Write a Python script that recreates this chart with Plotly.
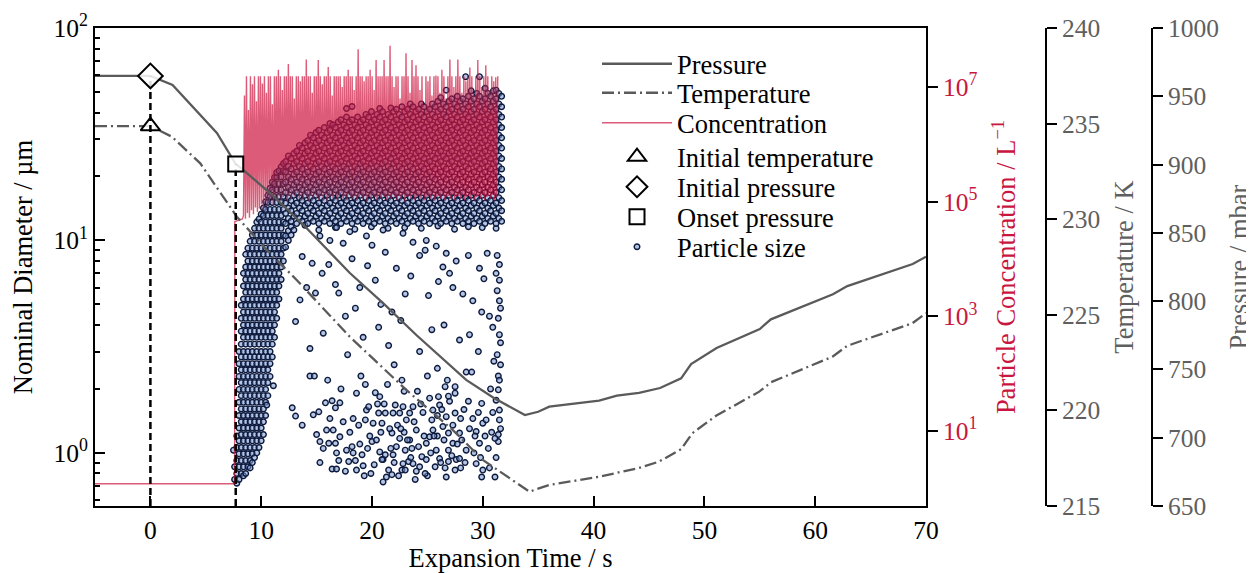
import plotly.graph_objects as go

# ---------------- data ----------------
press_t = [-5, 0, 2, 6, 7.7, 8.4, 11, 14, 18, 21, 24, 28.5, 31, 33.8, 35, 36, 40.5,
           42.1, 44.1, 46.0, 47.9, 48.8, 51.1, 55.0, 56.0, 61.6, 62.9, 68.8, 70]
press_mbar = [964.9, 964.9, 958.3, 923.1, 900.4, 896.0, 877.7, 854.3, 820.6, 798.6,
              775.2, 742.3, 729.1, 716.6, 719.0, 722.7, 727.1, 730.8, 732.9, 736.4,
              743.5, 753.9, 765.7, 779.6, 786.7, 805.0, 811.0, 827.2, 832.5]

temp_t = [-5, 0, 1.95, 4.5, 7.8, 10.5, 13.2, 18, 23.1, 27.3, 30, 34.2, 36, 40.5, 44.1,
          45.9, 47.9, 48.9, 51.05, 54.95, 56.0, 61.56, 62.9, 68.77, 70]
temp_K = [234.87, 234.87, 234.31, 232.92, 230.13, 228.39, 226.82, 223.85, 221.07,
          218.97, 217.41, 215.75, 216.10, 216.53, 216.99, 217.32, 217.97, 218.80,
          219.72, 220.98, 221.47, 222.81, 223.38, 224.56, 225.08]

init_temp = (0.0, 234.87)
init_press = (0.0, 964.9)
onset_press = (7.7, 900.4)

# concentration (L^-1): baseline + onset, then spiky record sampled every 0.09 s
conc_pre_t = [-5, 7.6, 7.62, 8.3]
conc_pre = [1.2, 1.2, 4.5e4, 5.0e4]
conc_spike_t0 = 8.40
conc_spike_dt = 0.09
conc_spike_log10 = [
    4.75, 6.85, 4.70, 7.19, 4.80, 6.60, 4.72, 7.19, 4.85, 7.05, 4.78, 7.19, 4.90, 6.75, 4.82, 7.19,
    4.88, 7.19, 4.95, 7.06, 4.85, 7.19, 5.00, 6.90, 4.92, 7.19, 4.98, 7.19, 5.05, 6.70, 4.95, 7.19,
    5.05, 7.19, 5.00, 7.30, 5.10, 7.19, 5.02, 6.95, 5.08, 7.19, 5.12, 7.19, 5.00, 7.40, 5.10, 7.19,
    5.05, 7.19, 5.12, 6.80, 5.08, 7.19, 5.15, 7.19, 5.05, 7.10, 5.10, 7.19, 5.02, 7.19, 5.12, 7.48,
    5.08, 7.19, 5.00, 7.19, 5.10, 6.90, 5.05, 7.19, 5.12, 7.19, 5.08, 7.47, 5.02, 7.19, 5.10, 7.05,
    5.05, 7.19, 5.12, 7.19, 5.00, 7.35, 5.08, 7.19, 5.10, 6.85, 5.05, 7.19, 5.12, 7.19, 5.02, 7.19,
    5.08, 7.19, 5.15, 7.00, 5.05, 7.19, 5.10, 7.19, 5.02, 7.30, 5.12, 7.19, 5.08, 7.19, 5.05, 6.95,
    5.10, 7.19, 5.02, 7.66, 5.08, 7.19, 5.12, 7.19, 5.05, 7.10, 5.10, 7.19, 5.00, 7.19, 5.08, 7.30,
    5.05, 7.19, 5.12, 6.95, 5.08, 7.47, 5.02, 7.19, 5.10, 7.19, 5.05, 7.19, 5.12, 7.47, 5.08, 7.19,
    5.02, 7.19, 5.10, 7.72, 5.05, 7.19, 5.12, 7.00, 5.08, 7.19, 5.02, 7.19, 5.10, 6.80, 5.05, 7.19,
    5.12, 7.19, 5.00, 7.59, 5.08, 7.19, 5.10, 6.90, 5.05, 7.47, 5.12, 7.19, 5.02, 7.38, 5.08, 7.19,
    5.10, 6.95, 5.05, 7.19, 5.12, 6.70, 5.02, 7.19, 5.08, 7.10, 5.10, 7.19, 5.05, 6.85, 5.12, 7.19,
    5.02, 7.20, 5.08, 7.19, 5.10, 6.90, 5.05, 7.30, 5.12, 7.19, 5.02, 6.80, 5.08, 7.19, 5.10, 7.48,
    5.05, 7.19, 5.12, 7.00, 5.02, 7.19, 5.08, 7.48, 5.10, 7.19, 5.05, 6.90, 5.12, 7.19, 5.02, 7.10,
    5.08, 7.19, 5.10, 7.34, 5.05, 7.19, 5.12, 6.85, 5.02, 7.19, 5.08, 7.47, 5.10, 7.19, 5.05, 7.00,
    5.12, 7.19, 5.02, 7.38, 5.08, 7.19, 5.10, 6.95, 5.05, 7.19, 5.12, 7.10, 5.02, 7.17, 5.08, 7.19,
]

# particle sizes (um): rising edge after onset, one column per time bin
rise_t = [7.6, 7.8, 8.0, 8.2, 8.4, 8.6, 8.8, 9.0, 9.2, 9.4, 9.6, 9.8, 10.0, 10.2,
          10.4, 10.6, 10.8, 11.0, 11.2, 11.4, 11.6, 11.8, 12.0]
rise_d = [
    [0.75, 0.86],
    [0.72, 0.8, 0.92, 1.06, 1.2],
    [0.75, 0.86, 0.99, 1.14, 1.31, 1.5, 1.73, 1.99, 2.29, 2.63, 3.0],
    [0.8, 0.92, 1.06, 1.22, 1.4, 1.61, 1.86, 2.14, 2.46, 2.83, 3.25, 3.74, 4.3, 4.95],
    [0.78, 0.86, 0.99, 1.14, 1.31, 1.5, 1.73, 1.99, 2.29, 2.63, 3.0, 3.5, 4.0, 4.6, 5.3, 6.1, 7.0],
    [0.8, 0.92, 1.06, 1.22, 1.4, 1.61, 1.86, 2.14, 2.46, 2.83, 3.25, 3.74, 4.3, 4.95, 5.7, 6.55, 7.5, 8.6],
    [0.86, 0.99, 1.14, 1.31, 1.5, 1.73, 1.99, 2.29, 2.63, 3.0, 3.5, 4.0, 4.6, 5.3, 6.1, 7.0, 8.0, 9.2],
    [0.85, 0.92, 1.06, 1.22, 1.4, 1.61, 1.86, 2.14, 2.46, 2.83, 3.25, 3.74, 4.3, 4.95, 5.7, 6.55, 7.5, 8.6, 9.9],
    [0.9, 0.99, 1.14, 1.31, 1.5, 1.73, 1.99, 2.29, 2.63, 3.0, 3.5, 4.0, 4.6, 5.3, 6.1, 7.0, 8.0, 9.2, 10.6],
    [0.95, 1.06, 1.22, 1.4, 1.61, 1.86, 2.14, 2.46, 2.83, 3.25, 3.74, 4.3, 4.95, 5.7, 6.55, 7.5, 8.6, 9.9, 11.4],
    [1.0, 1.14, 1.31, 1.5, 1.73, 1.99, 2.29, 2.63, 3.0, 3.5, 4.0, 4.6, 5.3, 6.1, 7.0, 8.0, 9.2, 10.6, 12.2],
    [1.06, 1.22, 1.4, 1.61, 1.86, 2.14, 2.46, 2.83, 3.25, 3.74, 4.3, 4.95, 5.7, 6.55, 7.5, 8.6, 9.9, 11.4, 12.6],
    [1.14, 1.31, 1.5, 1.73, 1.99, 2.29, 2.63, 3.0, 3.5, 4.0, 4.6, 5.3, 6.1, 7.0, 8.0, 9.2, 10.6, 12.2, 13.3],
    [1.22, 1.4, 1.61, 1.86, 2.14, 2.46, 2.83, 3.25, 3.74, 4.3, 4.95, 5.7, 6.55, 7.5, 8.6, 9.9, 11.4, 13.1, 14.2],
    [1.5, 1.73, 1.99, 2.29, 2.63, 3.0, 3.5, 4.0, 4.6, 5.3, 6.1, 7.0, 8.0, 9.2, 10.6, 12.2, 14.0, 15.2],
    [1.86, 2.14, 2.46, 2.83, 3.25, 3.74, 4.3, 4.95, 5.7, 6.55, 7.5, 8.6, 9.9, 11.4, 13.1, 15.1, 16.3],
    [2.29, 2.63, 3.0, 3.5, 4.0, 4.6, 5.3, 6.1, 7.0, 8.0, 9.2, 10.6, 12.2, 14.0, 16.1, 17.6],
    [2.83, 3.25, 3.74, 4.3, 4.95, 5.7, 6.55, 7.5, 8.6, 9.9, 11.4, 13.1, 15.1, 17.3, 18.8],
    [3.5, 4.0, 4.6, 5.3, 6.1, 7.0, 8.0, 9.2, 10.6, 12.2, 14.0, 16.1, 18.5, 19.8],
    [4.3, 4.95, 5.7, 6.55, 7.5, 8.6, 9.9, 11.4, 13.1, 15.1, 17.3, 19.9, 20.9],
    [5.3, 6.1, 7.0, 8.0, 9.2, 10.6, 12.2, 14.0, 16.1, 18.5, 21.3],
    [6.55, 7.5, 8.6, 9.9, 11.4, 13.1, 15.1, 17.3, 19.9, 22.2],
    [8.0, 9.2, 10.6, 12.2, 14.0, 16.1, 18.5, 21.3, 23.0],
]

# dense band of large particles, one column per 0.25 s bin
band_t = [12.2, 12.45, 12.7, 12.95, 13.2, 13.45, 13.7, 13.95, 14.2, 14.45, 14.7, 14.95,
          15.2, 15.45, 15.7, 15.95, 16.2, 16.45, 16.7, 16.95, 17.2, 17.45, 17.7, 17.95,
          18.2, 18.45, 18.7, 18.95, 19.2, 19.45, 19.7, 19.95, 20.2, 20.45, 20.7, 20.95,
          21.2, 21.45, 21.7, 21.95, 22.2, 22.45, 22.7, 22.95, 23.2, 23.45, 23.7, 23.95,
          24.2, 24.45, 24.7, 24.95, 25.2, 25.45, 25.7, 25.95, 26.2, 26.45, 26.7, 26.95,
          27.2, 27.45, 27.7, 27.95, 28.2, 28.45, 28.7, 28.95, 29.2, 29.45, 29.7, 29.95,
          30.2, 30.45, 30.7, 30.95, 31.2, 31.45, 31.7]
band_d = [
    [9.3, 10.5, 12.0, 13.4, 15.0, 16.8, 18.8, 21.0, 23.5],
    [10.0, 11.1, 12.7, 14.2, 15.9, 17.8, 19.9, 22.3, 25.0],
    [10.6, 11.6, 12.3, 13.8, 15.4, 17.3, 19.4, 21.7, 24.3],
    [11.2, 13.0, 14.6, 16.3, 18.3, 20.5, 23.0, 25.7],
    [12.0, 13.4, 15.0, 16.8, 18.8, 21.0, 23.5, 26.3],
    [12.7, 14.2, 15.9, 17.8, 19.9, 22.3, 25.0, 28.0],
    [12.3, 13.8, 15.4, 17.3, 19.4, 21.7, 24.3, 27.2],
    [11.8, 13.0, 14.6, 16.3, 18.3, 20.5, 23.0, 25.7, 28.8],
    [12.0, 13.4, 15.0, 16.8, 18.8, 21.0, 23.5, 26.3, 29.5],
    [12.7, 14.2, 15.9, 17.8, 19.9, 22.3, 25.0, 28.0, 31.3],
    [12.3, 13.8, 15.4, 17.3, 19.4, 21.7, 24.3, 27.2, 30.4],
    [13.0, 14.6, 16.3, 18.3, 20.5, 23.0, 25.7, 28.8, 32.2],
    [11.2, 12.0, 13.4, 15.0, 16.8, 18.8, 21.0, 23.5, 26.3, 29.5, 33.0],
    [12.7, 14.2, 15.9, 17.8, 19.9, 22.3, 25.0, 28.0, 31.3],
    [12.3, 13.8, 15.4, 17.3, 19.4, 21.7, 24.3, 27.2, 30.4, 34.0],
    [13.0, 14.6, 16.3, 18.3, 20.5, 23.0, 25.7, 28.8, 32.2],
    [12.0, 13.4, 15.0, 16.8, 18.8, 21.0, 23.5, 26.3, 29.5, 33.0, 35.5],
    [12.7, 14.2, 15.9, 17.8, 19.9, 22.3, 25.0, 28.0, 31.3, 35.0],
    [11.5, 12.3, 13.8, 15.4, 17.3, 19.4, 21.7, 24.3, 27.2, 30.4, 34.0],
    [13.0, 14.6, 16.3, 18.3, 20.5, 23.0, 25.7, 28.8, 32.2, 36.1],
    [12.0, 13.4, 15.0, 16.8, 18.8, 21.0, 23.5, 26.3, 29.5, 33.0, 37.0],
    [12.7, 14.2, 15.9, 17.8, 19.9, 22.3, 25.0, 28.0, 31.3, 35.0],
    [12.3, 13.8, 15.4, 17.3, 19.4, 21.7, 24.3, 27.2, 30.4, 34.0, 38.1, 41.8],
    [13.0, 14.6, 16.3, 18.3, 20.5, 23.0, 25.7, 28.8, 32.2, 36.1],
    [12.0, 13.4, 15.0, 16.8, 18.8, 21.0, 23.5, 26.3, 29.5, 33.0, 37.0, 42.7],
    [11.3, 12.7, 14.2, 15.9, 17.8, 19.9, 22.3, 25.0, 28.0, 31.3, 35.0],
    [12.3, 13.8, 15.4, 17.3, 19.4, 21.7, 24.3, 27.2, 30.4, 34.0, 38.1],
    [13.0, 14.6, 16.3, 18.3, 20.5, 23.0, 25.7, 28.8, 32.2, 36.1],
    [12.0, 13.4, 15.0, 16.8, 18.8, 21.0, 23.5, 26.3, 29.5, 33.0, 37.0],
    [12.7, 14.2, 15.9, 17.8, 19.9, 22.3, 25.0, 28.0, 31.3, 35.0, 39.2],
    [12.3, 13.8, 15.4, 17.3, 19.4, 21.7, 24.3, 27.2, 30.4, 34.0, 38.1],
    [11.6, 13.0, 14.6, 16.3, 18.3, 20.5, 23.0, 25.7, 28.8, 32.2, 36.1, 40.4],
    [12.0, 13.4, 15.0, 16.8, 18.8, 21.0, 23.5, 26.3, 29.5, 33.0, 37.0],
    [12.7, 14.2, 15.9, 17.8, 19.9, 22.3, 25.0, 28.0, 31.3, 35.0, 39.2],
    [12.3, 13.8, 15.4, 17.3, 19.4, 21.7, 24.3, 27.2, 30.4, 34.0, 38.1, 41.8],
    [13.0, 14.6, 16.3, 18.3, 20.5, 23.0, 25.7, 28.8, 32.2, 36.1, 40.4],
    [12.0, 13.4, 15.0, 16.8, 18.8, 21.0, 23.5, 26.3, 29.5, 33.0, 37.0],
    [11.4, 12.7, 14.2, 15.9, 17.8, 19.9, 22.3, 25.0, 28.0, 31.3, 35.0, 39.2],
    [12.3, 13.8, 15.4, 17.3, 19.4, 21.7, 24.3, 27.2, 30.4, 34.0, 38.1, 42.0],
    [13.0, 14.6, 16.3, 18.3, 20.5, 23.0, 25.7, 28.8, 32.2, 36.1, 40.4],
    [12.0, 13.4, 15.0, 16.8, 18.8, 21.0, 23.5, 26.3, 29.5, 33.0, 37.0, 41.4],
    [12.7, 14.2, 15.9, 17.8, 19.9, 22.3, 25.0, 28.0, 31.3, 35.0, 39.2],
    [12.3, 13.8, 15.4, 17.3, 19.4, 21.7, 24.3, 27.2, 30.4, 34.0, 38.1, 42.6],
    [11.5, 13.0, 14.6, 16.3, 18.3, 20.5, 23.0, 25.7, 28.8, 32.2, 36.1, 40.4],
    [12.0, 13.4, 15.0, 16.8, 18.8, 21.0, 23.5, 26.3, 29.5, 33.0, 37.0, 41.4],
    [12.7, 14.2, 15.9, 17.8, 19.9, 22.3, 25.0, 28.0, 31.3, 35.0, 39.2, 43.9],
    [12.3, 13.8, 15.4, 17.3, 19.4, 21.7, 24.3, 27.2, 30.4, 34.0, 38.1, 42.6],
    [13.0, 14.6, 16.3, 18.3, 20.5, 23.0, 25.7, 28.8, 32.2, 36.1, 40.4],
    [12.0, 13.4, 15.0, 16.8, 18.8, 21.0, 23.5, 26.3, 29.5, 33.0, 37.0, 41.4],
    [11.4, 12.7, 14.2, 15.9, 17.8, 19.9, 22.3, 25.0, 28.0, 31.3, 35.0, 39.2, 43.9],
    [12.3, 13.8, 15.4, 17.3, 19.4, 21.7, 24.3, 27.2, 30.4, 34.0, 38.1, 42.6],
    [13.0, 14.6, 16.3, 18.3, 20.5, 23.0, 25.7, 28.8, 32.2, 36.1, 40.4],
    [12.0, 13.4, 15.0, 16.8, 18.8, 21.0, 23.5, 26.3, 29.5, 33.0, 37.0, 41.4],
    [12.7, 14.2, 15.9, 17.8, 19.9, 22.3, 25.0, 28.0, 31.3, 35.0, 39.2, 43.9],
    [12.3, 13.8, 15.4, 17.3, 19.4, 21.7, 24.3, 27.2, 30.4, 34.0, 38.1, 42.6],
    [11.7, 13.0, 14.6, 16.3, 18.3, 20.5, 23.0, 25.7, 28.8, 32.2, 36.1, 40.4, 45.2],
    [12.0, 13.4, 15.0, 16.8, 18.8, 21.0, 23.5, 26.3, 29.5, 33.0, 37.0, 41.4, 47.0],
    [12.7, 14.2, 15.9, 17.8, 19.9, 22.3, 25.0, 28.0, 31.3, 35.0, 39.2, 43.9],
    [12.3, 13.8, 15.4, 17.3, 19.4, 21.7, 24.3, 27.2, 30.4, 34.0, 38.1, 42.6, 51.0],
    [13.0, 14.6, 16.3, 18.3, 20.5, 23.0, 25.7, 28.8, 32.2, 36.1, 40.4, 45.2],
    [12.0, 13.4, 15.0, 16.8, 18.8, 21.0, 23.5, 26.3, 29.5, 33.0, 37.0, 41.4, 46.4],
    [11.3, 12.7, 14.2, 15.9, 17.8, 19.9, 22.3, 25.0, 28.0, 31.3, 35.0, 39.2, 43.9],
    [12.3, 13.8, 15.4, 17.3, 19.4, 21.7, 24.3, 27.2, 30.4, 34.0, 38.1, 42.6, 47.7],
    [13.0, 14.6, 16.3, 18.3, 20.5, 23.0, 25.7, 28.8, 32.2, 36.1, 40.4, 45.2],
    [12.0, 13.4, 15.0, 16.8, 18.8, 21.0, 23.5, 26.3, 29.5, 33.0, 37.0, 41.4, 46.4],
    [12.7, 14.2, 15.9, 17.8, 19.9, 22.3, 25.0, 28.0, 31.3, 35.0, 39.2, 43.9, 59.0],
    [11.6, 12.3, 13.8, 15.4, 17.3, 19.4, 21.7, 24.3, 27.2, 30.4, 34.0, 38.1, 42.6, 47.7],
    [13.0, 14.6, 16.3, 18.3, 20.5, 23.0, 25.7, 28.8, 32.2, 36.1, 40.4, 45.2, 50.6],
    [12.0, 13.4, 15.0, 16.8, 18.8, 21.0, 23.5, 26.3, 29.5, 33.0, 37.0, 41.4, 46.4],
    [12.7, 14.2, 15.9, 17.8, 19.9, 22.3, 25.0, 28.0, 31.3, 35.0, 39.2, 43.9, 49.2],
    [12.3, 13.8, 15.4, 17.3, 19.4, 21.7, 24.3, 27.2, 30.4, 34.0, 38.1, 42.6, 47.7, 59.0],
    [11.5, 13.0, 14.6, 16.3, 18.3, 20.5, 23.0, 25.7, 28.8, 32.2, 36.1, 40.4, 45.2],
    [12.0, 13.4, 15.0, 16.8, 18.8, 21.0, 23.5, 26.3, 29.5, 33.0, 37.0, 41.4, 46.4, 52.0],
    [12.7, 14.2, 15.9, 17.8, 19.9, 22.3, 25.0, 28.0, 31.3, 35.0, 39.2, 43.9, 49.2],
    [12.3, 13.8, 15.4, 17.3, 19.4, 21.7, 24.3, 27.2, 30.4, 34.0, 38.1, 42.6, 47.7],
    [13.0, 14.6, 16.3, 18.3, 20.5, 23.0, 25.7, 28.8, 32.2, 36.1, 40.4, 45.2, 50.6],
    [11.4, 12.0, 13.4, 15.0, 16.8, 18.8, 21.0, 23.5, 26.3, 29.5, 33.0, 37.0, 41.4, 46.4, 51.0],
    [12.7, 14.2, 15.9, 17.8, 19.9, 22.3, 25.0, 28.0, 31.3, 35.0, 39.2, 43.9, 49.2],
    [12.3, 13.8, 15.4, 17.3, 19.4, 21.7, 24.3, 27.2, 30.4, 34.0, 38.1, 42.6, 47.7],
]

# scattered mid-size particles
mid_t = [13.1, 14.4, 14.4, 14.8, 15.6, 13.5, 14.1, 14.9, 15.5, 16.1, 16.7, 17.0, 14.6,
         13.7, 16.2, 17.4, 18.5, 19.2, 20.3, 20.8, 21.5, 22.0, 21.2, 22.6, 23.5, 24.3,
         25.1, 25.9, 26.5, 27.3, 27.9, 28.5, 29.1, 29.6, 30.1, 30.6, 31.0, 31.3, 31.5,
         31.4, 31.6, 31.2, 30.4, 18.0, 19.5, 21.0, 22.8, 23.7, 24.8, 25.8, 26.7, 27.6,
         28.7, 29.7, 31.3, 31.5, 24.3, 26.4, 24.9, 20.0, 16.8, 15.3,
         31.5, 31.5, 31.4, 31.6, 31.3, 31.6, 30.9, 29.9, 28.8, 28.2, 27.0, 26.0, 25.4,
         23.0, 22.2, 21.8, 20.6, 19.6, 18.9, 18.2, 17.8, 17.6]
mid_d = [4.15, 3.1, 2.3, 2.3, 3.66, 5.25, 6.0, 5.65, 7.0, 7.7, 6.2, 5.65, 7.8,
         8.4, 10.0, 9.7, 4.8, 3.5, 6.5, 5.0, 3.2, 2.6, 8.8, 4.2, 6.8, 3.0,
         5.5, 2.5, 4.0, 6.0, 3.4, 2.4, 5.2, 3.0, 6.6, 4.4, 2.7, 5.8, 3.6,
         2.3, 4.8, 7.0, 8.7, 11.0, 10.5, 11.2, 10.8, 9.8, 9.0, 9.4, 8.7, 8.0,
         8.5, 7.4, 8.5, 7.7, 8.5, 7.5, 10.0, 9.5, 11.5, 10.5,
         6.5, 5.2, 4.3, 3.3, 2.9, 2.6, 3.9, 4.6, 3.6, 5.6, 7.0, 6.4, 3.8,
         5.6, 7.4, 4.6, 3.9, 7.6, 6.0, 8.2, 2.9, 4.4]

# cluster of small particles
low_t = [7.5, 10.5, 11.1, 12.8, 13.1, 13.7, 14.7, 15.2, 15.8, 16.4, 16.7, 17.1, 15.0, 15.3,
         16.1, 15.9, 16.5, 16.7, 17.1, 16.8, 16.4, 16.8, 17.6, 15.3, 17.7, 18.2, 18.3, 17.9,
         18.5, 18.6, 19.2, 19.1, 18.6, 19.5, 19.4, 20.1, 20.3, 20.7, 20.6, 21.2, 20.9, 20.0,
         20.4, 20.7, 21.0, 21.2, 20.9, 21.5, 21.0, 21.3, 21.8, 21.9, 22.2, 22.5, 21.8, 21.9,
         22.1, 22.5, 22.8, 23.1, 23.4, 23.7, 24.0, 23.4, 23.0, 22.8, 22.7, 23.0, 23.3, 23.7,
         24.0, 24.3, 24.5, 24.9, 24.2, 24.9, 25.2, 25.5, 25.4, 25.5, 25.2, 26.0, 26.1, 26.6,
         27.5, 27.5, 27.5, 26.7, 26.4, 26.9, 27.9, 27.3, 26.9, 25.8, 26.1, 25.7, 26.6, 26.9,
         27.6, 27.9, 27.5, 26.7, 28.5, 29.1, 29.4, 29.9, 30.0, 30.3, 29.7, 29.4, 30.0, 29.9,
         31.1, 31.2, 31.5, 31.5, 31.4, 31.4, 31.1, 31.4, 31.5, 18.0, 18.8, 19.6, 19.9, 20.5,
         21.6, 22.3, 22.9, 23.6, 24.6, 24.7, 25.0, 25.9, 26.3, 27.0, 27.2, 28.1, 28.3, 28.8,
         29.2, 29.6, 30.5, 30.8, 28.0, 23.9, 22.4, 19.8, 17.4, 24.1, 26.8, 29.0, 30.7, 21.4,
         19.0, 17.2, 16.0,
         18.3, 18.9, 19.3, 19.7, 20.2, 20.8, 21.1, 21.7, 22.0, 22.6, 22.9, 23.2, 23.5, 23.8,
         24.4, 24.8, 25.3, 25.6, 25.9, 26.2, 26.5, 26.9, 27.3, 27.7, 28.0, 28.4, 28.7, 29.3,
         29.8, 30.2, 30.6, 30.9, 31.2, 31.6, 17.0, 16.2, 15.6, 19.4, 22.7, 25.0]
low_d = [1.03, 1.68, 2.07, 1.63, 1.49, 1.35, 1.51, 1.56, 1.72, 1.76, 1.63, 1.72, 1.22, 1.13,
         1.11, 1.28, 1.28, 1.11, 1.19, 1.0, 0.84, 0.84, 0.82, 0.90, 1.03, 1.07, 1.0, 0.91,
         0.92, 0.83, 0.87, 0.98, 1.91, 1.59, 1.43, 1.38, 1.92, 1.84, 1.54, 1.54, 1.38, 1.13,
         1.15, 1.01, 0.93, 0.98, 0.93, 0.83, 0.73, 0.77, 0.79, 0.98, 1.07, 1.17, 1.24, 1.54,
         1.68, 1.54, 1.65, 1.43, 1.54, 1.65, 1.28, 1.15, 1.03, 0.89, 0.83, 0.83, 0.91, 0.89,
         0.82, 0.86, 0.96, 0.93, 1.07, 1.11, 1.19, 1.28, 1.43, 1.59, 1.81, 1.84, 1.68, 2.05,
         2.05, 1.91, 1.54, 1.48, 1.33, 1.24, 1.24, 1.11, 1.03, 1.03, 0.94, 0.86, 0.85, 0.91,
         0.93, 0.94, 0.83, 0.77, 1.03, 1.45, 1.26, 1.71, 1.38, 1.43, 1.11, 0.89, 0.83, 0.77,
         0.77, 1.77, 1.59, 1.43, 1.22, 1.13, 1.17, 1.98, 2.2, 1.25, 1.35, 1.05, 0.8, 1.7,
         1.3, 1.35, 1.25, 1.05, 1.55, 1.2, 0.78, 1.2, 1.6, 1.75, 0.97, 1.15, 1.6, 1.3,
         1.0, 1.55, 1.05, 1.25, 0.85, 0.75, 0.78, 1.2, 1.4, 1.95, 2.2, 2.4, 2.0, 2.1,
         2.3, 2.0, 2.2,
         1.45, 1.1, 0.78, 1.65, 0.88, 1.25, 1.7, 1.05, 0.9, 1.3, 1.95, 1.15, 0.95, 1.4,
         1.7, 0.8, 1.0, 1.2, 1.5, 0.9, 1.15, 1.85, 1.35, 1.1, 1.45, 0.9, 1.75, 1.2,
         0.95, 1.2, 0.85, 1.55, 0.95, 1.3, 0.92, 1.45, 1.05, 2.1, 2.2, 2.3]

x_ticks = [0, 10, 20, 30, 40, 50, 60, 70]

# ---------------- assemble ----------------
conc_t = list(conc_pre_t) + [conc_spike_t0 + conc_spike_dt * i for i in range(len(conc_spike_log10))]
conc_v = list(conc_pre) + [10 ** v for v in conc_spike_log10]

part_t, part_d = [], []
for t, ds in zip(rise_t, rise_d):
    part_t += [t] * len(ds)
    part_d += ds
for t, ds in zip(band_t, band_d):
    part_t += [t] * len(ds)
    part_d += ds
part_t += mid_t + low_t
part_d += mid_d + low_d

FONT = "Liberation Serif, Times New Roman, Times, serif"
FS_TICK = 25.5
FS_TITLE = 26.5
FS_LEG = 26.5
CRIMSON = "#C8163F"
GRAY_TXT = "#5f5f5f"
LINE_GRAY = "#5a5a5a"

# page is rendered with an 8px body margin; figure coords = page coords - 8
W, H = 1246, 565
ML, MT = 87, 20
PLOT_R, PLOT_B = 918, 498
PRESS_X = 1144
MR, MB = W - PRESS_X, H - PLOT_B
pw = PRESS_X - ML
ph = PLOT_B - MT
xdom_end = (PLOT_R - ML) / pw
temp_pos = (1038 - ML) / pw

fig = go.Figure()

fig.add_trace(go.Scatter(
    x=part_t, y=part_d, mode="markers", name="Particle size", yaxis="y",
    marker=dict(size=5.6, color="rgba(120,150,205,0.55)", line=dict(color="#0d1a3d", width=1.4)),
    legend="legend7"))

fig.add_trace(go.Scatter(
    x=conc_t, y=conc_v, mode="lines", name="Concentration", yaxis="y2",
    line=dict(color="rgba(205,22,62,0.7)", width=1.4), legend="legend3"))

fig.add_trace(go.Scatter(
    x=temp_t, y=temp_K, mode="lines", name="Temperature", yaxis="y3",
    line=dict(color=LINE_GRAY, width=2.3, dash="12px,4px,2px,4px"), legend="legend2"))

fig.add_trace(go.Scatter(
    x=[init_temp[0]], y=[init_temp[1]], mode="markers", name="Initial temperature", yaxis="y3",
    marker=dict(symbol="triangle-up", size=17, color="rgba(255,255,255,0.85)",
                line=dict(color="black", width=2)), legend="legend4"))

fig.add_trace(go.Scatter(
    x=press_t, y=press_mbar, mode="lines", name="Pressure", yaxis="y4",
    line=dict(color=LINE_GRAY, width=2.3), legend="legend"))

fig.add_trace(go.Scatter(
    x=[init_press[0], init_press[0]], y=[650, init_press[1]], mode="lines", yaxis="y4",
    line=dict(color="black", width=2.5, dash="7px,4px"), showlegend=False, hoverinfo="skip"))
fig.add_trace(go.Scatter(
    x=[onset_press[0], onset_press[0]], y=[650, onset_press[1]], mode="lines", yaxis="y4",
    line=dict(color="black", width=2.5, dash="7px,4px"), showlegend=False, hoverinfo="skip"))

fig.add_trace(go.Scatter(
    x=[init_press[0]], y=[init_press[1]], mode="markers", name="Initial pressure", yaxis="y4",
    marker=dict(symbol="diamond", size=19, color="rgba(255,255,255,0.85)",
                line=dict(color="black", width=2)), legend="legend5"))
fig.add_trace(go.Scatter(
    x=[onset_press[0]], y=[onset_press[1]], mode="markers", name="Onset pressure", yaxis="y4",
    marker=dict(symbol="square", size=15, color="rgba(255,255,255,0.85)",
                line=dict(color="black", width=2)), legend="legend6"))

tickfont = dict(family=FONT, size=FS_TICK, color="black")
minor_vals = [0.6, 0.7, 0.8, 0.9, 2, 3, 4, 5, 6, 7, 8, 9, 20, 30, 40, 50, 60, 70, 80, 90]


def legend_at(page_y):
    yf = page_y - 8
    return dict(x=(589 - ML) / pw, y=(PLOT_B - yf) / ph, xanchor="left", yanchor="middle",
                bgcolor="rgba(0,0,0,0)", borderwidth=0, font=dict(family=FONT, size=FS_LEG),
                itemwidth=70)


fig.update_layout(
    width=W, height=H,
    margin=dict(l=ML, r=MR, t=MT, b=MB, autoexpand=False),
    paper_bgcolor="white", plot_bgcolor="white",
    font=dict(family=FONT, size=FS_TICK, color="black"),
    showlegend=True,
    legend=legend_at(64), legend2=legend_at(93), legend3=legend_at(123),
    legend4=legend_at(157), legend5=legend_at(187), legend6=legend_at(217),
    legend7=legend_at(247),
    xaxis=dict(domain=[0, xdom_end], range=[-5, 70], tickvals=x_ticks, ticks="inside",
               ticklen=10, tickwidth=2, tickcolor="black", showline=True, linewidth=2,
               linecolor="black", mirror=True, showgrid=False, zeroline=False,
               tickfont=tickfont,
               title=dict(text="Expansion Time / s", font=dict(family=FONT, size=FS_TITLE), standoff=5)),
    yaxis=dict(type="log", range=[-0.25, 2], tickvals=[1, 10, 100],
               ticktext=["10<sup>0</sup>", "10<sup>1</sup>", "10<sup>2</sup>"],
               ticks="inside", ticklen=10, tickwidth=2, tickcolor="black",
               minor=dict(ticks="inside", ticklen=5, tickwidth=1.5, tickcolor="black",
                          tickvals=minor_vals, showgrid=False),
               showline=True, linewidth=2, linecolor="black", showgrid=False, zeroline=False,
               tickfont=tickfont,
               title=dict(text="Nominal Diameter / µm", font=dict(family=FONT, size=FS_TITLE), standoff=14)),
    yaxis2=dict(type="log", overlaying="y", side="right", anchor="x", range=[-0.31, 8.03],
                tickvals=[10, 1e3, 1e5, 1e7],
                ticktext=["10<sup>1</sup>", "10<sup>3</sup>", "10<sup>5</sup>", "10<sup>7</sup>"],
                ticks="outside", ticklen=10, tickwidth=2, tickcolor="black",
                showline=True, linewidth=2, linecolor="black", showgrid=False, zeroline=False,
                tickfont=dict(family=FONT, size=FS_TICK, color=CRIMSON),
                title=dict(text="Particle Concentration / L<sup>−1</sup>",
                           font=dict(family=FONT, size=FS_TITLE, color=CRIMSON), standoff=20)),
    yaxis3=dict(overlaying="y", side="right", anchor="free", position=temp_pos, range=[215, 240],
                tickvals=[215, 220, 225, 230, 235, 240],
                ticks="outside", ticklen=10, tickwidth=2, tickcolor="black",
                showline=True, linewidth=2, linecolor="black", showgrid=False, zeroline=False,
                tickfont=dict(family=FONT, size=FS_TICK, color=GRAY_TXT),
                title=dict(text="Temperature / K", font=dict(family=FONT, size=FS_TITLE, color=GRAY_TXT),
                           standoff=14)),
    yaxis4=dict(overlaying="y", side="right", anchor="free", position=1.0, range=[650, 1000],
                tickvals=[650, 700, 750, 800, 850, 900, 950, 1000],
                ticks="outside", ticklen=10, tickwidth=2, tickcolor="black",
                showline=True, linewidth=2, linecolor="black", showgrid=False, zeroline=False,
                tickfont=dict(family=FONT, size=FS_TICK, color=GRAY_TXT),
                title=dict(text="Pressure / mbar", font=dict(family=FONT, size=FS_TITLE, color=GRAY_TXT),
                           standoff=10)),
)

fig.write_html("out.html")
